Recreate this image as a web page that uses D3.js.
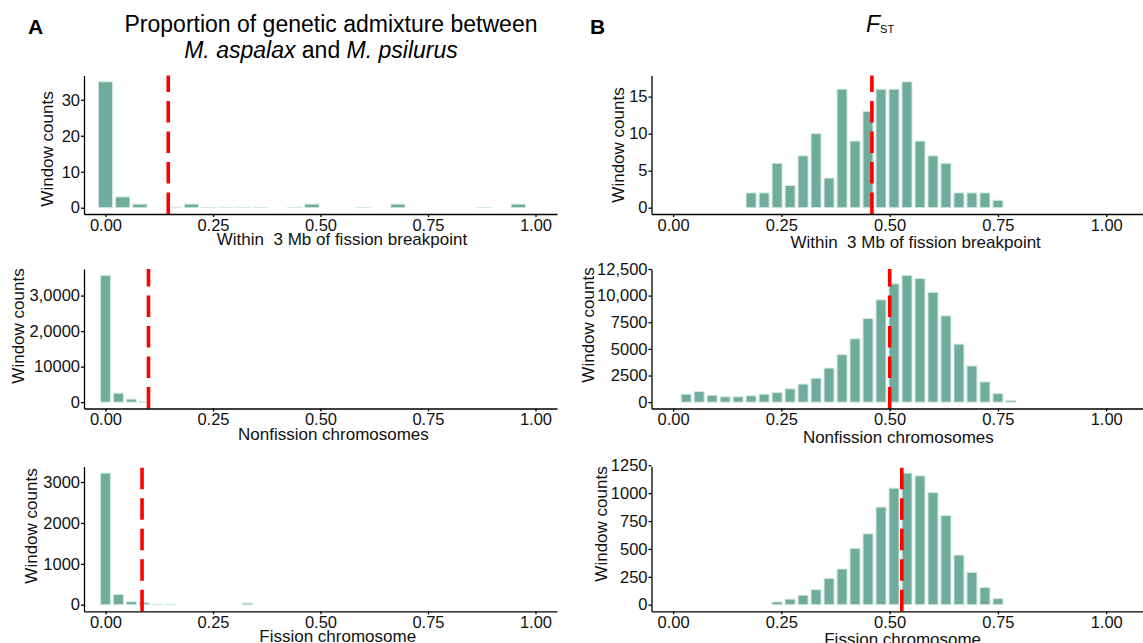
<!DOCTYPE html>
<html>
<head>
<meta charset="utf-8">
<script src="https://cdn.jsdelivr.net/npm/d3@7"></script>
<style>
  body { margin: 0; background: #fff; }
  svg { font-family: "Liberation Sans", Arial, sans-serif; }
  .axis path, .axis line { stroke: #000; stroke-width: 1.3; }
  .axis text { font-size: 16.5px; fill: #111; font-family: "Liberation Sans", Arial, sans-serif; }
  .xtitle, .ytitle { font-size: 17px; fill: #111; white-space: pre; }
</style>
</head>
<body>
<svg id="fig" width="1143" height="643"></svg>
<script>
/* global d3 */

// A: proportion of admixture, histogram bin centres and counts
const admixNearBins = [0, 0.04, 0.08, 0.16, 0.20, 0.24, 0.28, 0.32, 0.36, 0.44, 0.48, 0.60, 0.68, 0.88, 0.96];
const admixNearCounts = [35, 3, 1, 0.1, 1, 0.1, 0.1, 0.1, 0.1, 0.1, 1, 0.1, 1, 0.1, 1];
const admixNonBins = [0, 0.03, 0.06, 0.09];
const admixNonCounts = [35700, 2540, 850, 150];
const admixFisBins = [0, 0.03, 0.06, 0.09, 0.12, 0.15, 0.33];
const admixFisCounts = [3220, 250, 75, 50, 12, 10, 40];

// B: FST histograms
const fstNearBins = [0.18, 0.21, 0.24, 0.27, 0.30, 0.33, 0.36, 0.39, 0.42, 0.45,
  0.48, 0.51, 0.54, 0.57, 0.60, 0.63, 0.66, 0.69, 0.72, 0.75];
const fstNearCounts = [2, 2, 6, 3, 7, 10, 4, 16, 9, 13, 16, 16, 17, 9, 7, 6, 2, 2, 2, 1];
const fstNonBins = [0.03, 0.06, 0.09, 0.12, 0.15, 0.18, 0.21, 0.24, 0.27, 0.30, 0.33, 0.36, 0.39,
  0.42, 0.45, 0.48, 0.51, 0.54, 0.57, 0.60, 0.63, 0.66, 0.69, 0.72, 0.75, 0.78];
const fstNonCounts = [750, 1000, 650, 500, 500, 600, 750, 900, 1250, 1700, 2250, 3200, 4450,
  5950, 7850, 9600, 11100, 11900, 11600, 10300, 8100, 5450, 3400, 1900, 800, 150];
const fstFisBins = [0.24, 0.27, 0.30, 0.33, 0.36, 0.39, 0.42, 0.45, 0.48, 0.51, 0.54, 0.57,
  0.60, 0.63, 0.66, 0.69, 0.72, 0.75];
const fstFisCounts = [25, 50, 85, 135, 235, 320, 505, 635, 875, 1045, 1180, 1155, 1005, 800,
  445, 290, 155, 55];

// means (red dashed lines)
const meanLines = [0.146, 0.10, 0.085, 0.459, 0.50, 0.528];

// tick values and labels
const xTicks = [0, 0.25, 0.5, 0.75, 1];
const yTicksA1 = [0, 10, 20, 30];
const yTicksA2 = [0, 10000, 20000, 30000];
const yLabelsA2 = ["0", "10000", "2,0000", "3,0000"];
const yTicksA3 = [0, 1000, 2000, 3000];
const yTicksB1 = [0, 5, 10, 15];
const yTicksB2 = [0, 2500, 5000, 7500, 10000, 12500];
const yLabelsB2 = ["0", "2500", "5000", "7500", "10,000", "12,500"];
const yTicksB3 = [0, 250, 500, 750, 1000, 1250];

const xTitles = ["Within  3 Mb of fission breakpoint", "Nonfission chromosomes", "Fission chromosome"];

// ---- layout ----
const rows = [{top: 75.5, bottom: 214}, {top: 269, bottom: 408.5}, {top: 466.5, bottom: 611.3}];
const cols = [
  {left: 84, right: 557, domain: [-0.05, 1.05], titleDy: 31},
  {left: 651.5, right: 1143, domain: [-0.05, 1.085], titleDy: 34}
];

const panels = [
  {col: 0, row: 0, bins: admixNearBins, counts: admixNearCounts, bw: 0.04, yTicks: yTicksA1, yLabels: null,
    titleAt: 0.55, yTitle: [47, 149]},
  {col: 0, row: 1, bins: admixNonBins, counts: admixNonCounts, bw: 0.03, yTicks: yTicksA2, yLabels: yLabelsA2,
    titleAt: 0.53, yTitle: [18, 326]},
  {col: 0, row: 2, bins: admixFisBins, counts: admixFisCounts, bw: 0.03, yTicks: yTicksA3, yLabels: null,
    titleAt: 0.54, yTitle: [31, 526]},
  {col: 1, row: 0, bins: fstNearBins, counts: fstNearCounts, bw: 0.03, yTicks: yTicksB1, yLabels: null,
    titleAt: 0.56, yTitle: [618, 145]},
  {col: 1, row: 1, bins: fstNonBins, counts: fstNonCounts, bw: 0.03, yTicks: yTicksB2, yLabels: yLabelsB2,
    titleAt: 0.52, yTitle: [588, 325]},
  {col: 1, row: 2, bins: fstFisBins, counts: fstFisCounts, bw: 0.03, yTicks: yTicksB3, yLabels: null,
    titleAt: 0.53, yTitle: [601, 524]}
];

const FILL = "#70ac9b";
const EDGE = "#d3e9e2";

const svg = d3.select("#fig");

panels.forEach((p, i) => {
  const c = cols[p.col], r = rows[p.row];
  const x = d3.scaleLinear().domain(c.domain).range([c.left, c.right]);
  const maxCount = d3.max(p.counts);
  const y = d3.scaleLinear().domain([-0.05 * maxCount, 1.05 * maxCount]).range([r.bottom, r.top]);
  const g = svg.append("g").attr("class", "panel");

  const binPx = x(p.bw) - x(0);
  const data = p.bins.map((b, k) => ({bin: b, count: p.counts[k]}));
  g.append("g").selectAll("rect")
    .data(data)
    .join("rect")
    .attr("x", d => x(d.bin - p.bw / 2) + 1.5)
    .attr("width", binPx - 3)
    .attr("y", d => y(d.count))
    .attr("height", d => Math.max(0.3, y(0) - y(d.count)))
    .attr("fill", FILL)
    .attr("stroke", EDGE)
    .attr("stroke-width", 1);

  // mean line, drawn from the bottom up like ggplot
  g.append("line")
    .attr("x1", x(meanLines[i])).attr("x2", x(meanLines[i]))
    .attr("y1", r.bottom).attr("y2", r.top)
    .attr("stroke", "#ff0000")
    .attr("stroke-width", 3.6)
    .attr("stroke-dasharray", "21.5,9");

  const xAxis = d3.axisBottom(x).tickValues(xTicks).tickFormat(d3.format(".2f"))
    .tickSize(3).tickSizeOuter(0).tickPadding(2);
  g.append("g").attr("class", "axis")
    .attr("transform", `translate(0,${r.bottom})`)
    .call(xAxis);

  const yAxis = d3.axisLeft(y).tickValues(p.yTicks).tickSize(3).tickSizeOuter(0).tickPadding(1)
    .tickFormat((d, k) => p.yLabels ? p.yLabels[k] : String(d));
  g.append("g").attr("class", "axis")
    .attr("transform", `translate(${c.left},0)`)
    .call(yAxis);

  g.append("text")
    .attr("class", "xtitle")
    .attr("x", x(p.titleAt))
    .attr("y", r.bottom + c.titleDy)
    .attr("text-anchor", "middle")
    .text(xTitles[p.row]);

  g.append("text")
    .attr("class", "ytitle")
    .attr("transform", `translate(${p.yTitle[0]},${p.yTitle[1]}) rotate(-90)`)
    .attr("dy", "0.35em")
    .attr("text-anchor", "middle")
    .text("Window counts");
});

// headings
svg.append("text").attr("x", 28).attr("y", 34)
  .style("font-size", "21px").style("font-weight", "bold").text("A");
svg.append("text").attr("x", 590).attr("y", 34)
  .style("font-size", "21px").style("font-weight", "bold").text("B");

svg.append("text").attr("x", 331).attr("y", 32).attr("text-anchor", "middle")
  .style("font-size", "23px").text("Proportion of genetic admixture between");
const t2 = svg.append("text").attr("x", 321).attr("y", 58).attr("text-anchor", "middle")
  .style("font-size", "23px");
t2.append("tspan").style("font-style", "italic").text("M. aspalax");
t2.append("tspan").text(" and ");
t2.append("tspan").style("font-style", "italic").text("M. psilurus");

const fst = svg.append("text").attr("x", 866).attr("y", 32).style("font-size", "23px");
fst.append("tspan").style("font-style", "italic").text("F");
fst.append("tspan").attr("dy", 1).style("font-size", "11px").text("ST");
</script>
</body>
</html>
